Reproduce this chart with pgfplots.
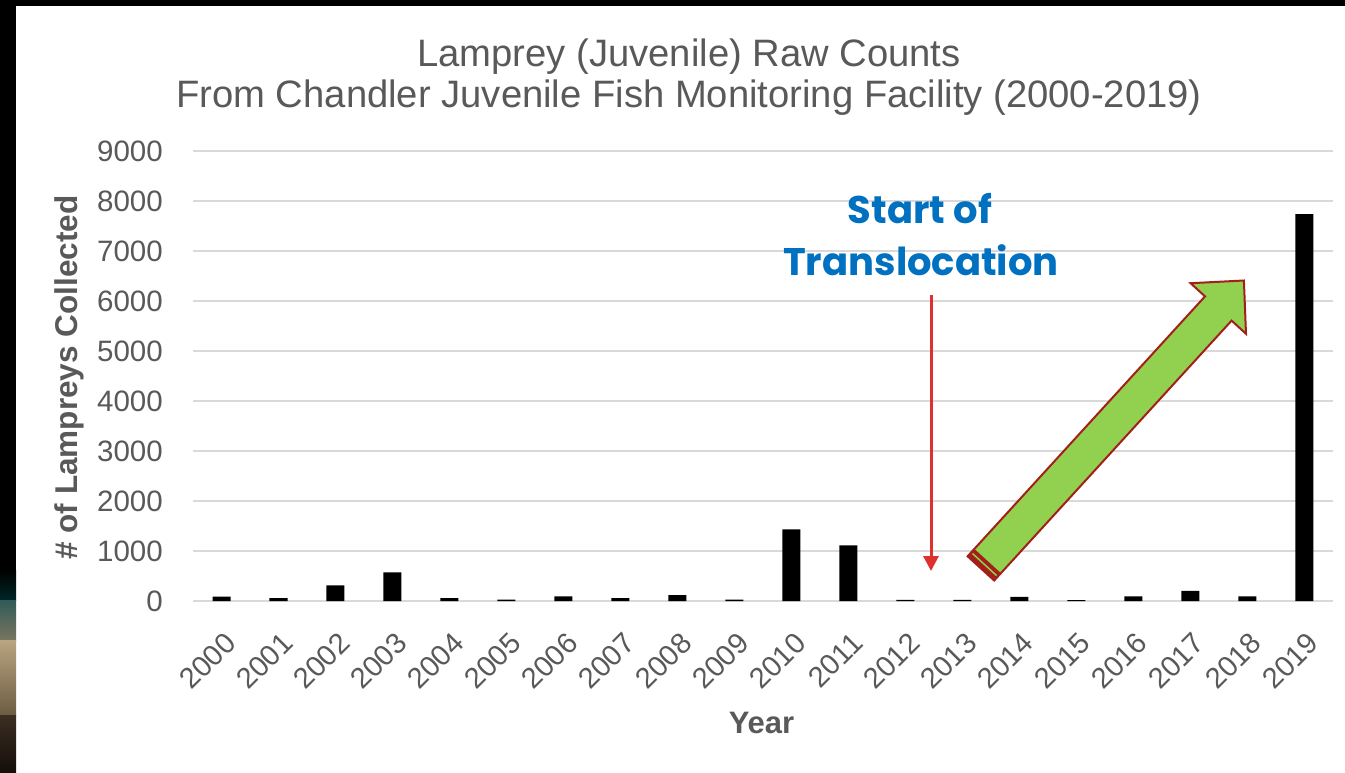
\documentclass[border=0pt]{standalone}
\usepackage{pgfplots}
\pgfplotsset{compat=1.18}
\usepackage{pgfplotstable}
\usetikzlibrary{arrows.meta}
\usepackage{fontspec}
\setmainfont{Liberation Sans}
\newfontfamily\annfont{Poppins}
\definecolor{txt}{HTML}{595959}
\definecolor{gridc}{HTML}{D9D9D9}
\definecolor{blu}{HTML}{0070C0}
\definecolor{redarr}{HTML}{E0302D}
\definecolor{grn}{HTML}{92D050}
\definecolor{dred}{HTML}{A3201A}

\pgfplotstableread{
idx year count
0 2000 90
1 2001 60
2 2002 315
3 2003 575
4 2004 60
5 2005 30
6 2006 95
7 2007 60
8 2008 120
9 2009 30
10 2010 1435
11 2011 1115
12 2012 25
13 2013 25
14 2014 85
15 2015 20
16 2016 95
17 2017 205
18 2018 95
19 2019 7740
}\lampreys

\begin{document}
\begin{tikzpicture}
\begin{scope}[x=1pt,y=-1pt]
\path[use as bounding box] (0,0) rectangle (1345,772);
\fill[black] (0,0) rectangle (1345,772);
\fill[white] (16,6) rectangle (1345,772);
\shade[top color=black, bottom color=black!70!teal] (0,570) rectangle (16,600);
\shade[top color={rgb,255:red,50;green,90;blue,88}, bottom color={rgb,255:red,120;green,118;blue,95}] (0,600) rectangle (16,640);
\shade[top color={rgb,255:red,185;green,165;blue,128}, bottom color={rgb,255:red,110;green,92;blue,66}] (0,640) rectangle (16,715);
\shade[top color={rgb,255:red,60;green,46;blue,34}, bottom color={rgb,255:red,20;green,15;blue,10}] (0,715) rectangle (16,772);
\end{scope}

\begin{axis}[
  at={(193pt,-601pt)}, anchor=south west,
  scale only axis, width=1140pt, height=450pt,
  xmin=-0.5, xmax=19.5, ymin=0, ymax=9000,
  ytick={0,1000,...,9000},
  xtick={0,...,19},
  xticklabels from table={\lampreys}{year},
  axis line style={draw=none},
  major tick length=0pt,
  ymajorgrids, grid style={gridc, line width=1.5pt},
  /pgf/number format/1000 sep={},
  /pgf/number format/assume math mode=true,
  yticklabel style={font=\fontsize{29.5}{34}\selectfont, text=txt, anchor=east, inner sep=0pt, xshift=-30pt},
  xticklabel style={font=\fontsize{29}{33}\selectfont, text=txt, inner sep=0pt, xshift=9pt, yshift=-37pt, rotate=45, anchor=east},
  clip=false,
]
\addplot[ybar, bar width=18pt, fill=black, draw=none] table[x=idx, y=count] {\lampreys};
\end{axis}

\begin{scope}[x=1pt,y=-1pt]
% titles
\node[anchor=base, text=txt, font=\fontsize{38.2}{44}\selectfont, inner sep=0pt] at (689,66) {Lamprey (Juvenile) Raw Counts};
\node[anchor=base, text=txt, font=\fontsize{38.2}{44}\selectfont, inner sep=0pt] at (689,107) {From Chandler Juvenile Fish Monitoring Facility (2000-2019)};
% axis labels
\node[anchor=base, text=txt, font=\fontsize{31.5}{36}\selectfont\bfseries, inner sep=0pt, rotate=90] at (77,377.5) {\# of Lampreys Collected};
\node[anchor=base, text=txt, font=\fontsize{31}{36}\selectfont\bfseries, inner sep=0pt] at (761.5,733) {Year};
% annotation text
\node[anchor=base, text=blu, font=\annfont\bfseries\fontsize{38.5}{46}\selectfont, inner sep=0pt] at (920,223) {Start of};
\node[anchor=base, text=blu, font=\annfont\bfseries\fontsize{38.5}{46}\selectfont, inner sep=0pt] at (921,275) {Translocation};
% red arrow
\draw[redarr, line width=3pt, -{Triangle[length=15pt,width=15pt]}] (931,295) -- (931,571);
% green block arrow
\draw[fill=grn, draw=dred, line width=2pt, line join=miter]
  (967.6,556.3) -- (1205.0,296.4) -- (1190.6,283.2) -- (1243.9,280.5) -- (1246.0,333.8) -- (1231.6,320.6) -- (994.2,580.5) -- cycle;
\fill[dred] (967.6,556.3) -- (974.3,548.9) -- (1000.9,573.1) -- (994.2,580.5) -- cycle;
\draw[grn, line width=1.5pt] (972.5,553.5) -- (996.5,575.5);
\end{scope}
\end{tikzpicture}
\end{document}
